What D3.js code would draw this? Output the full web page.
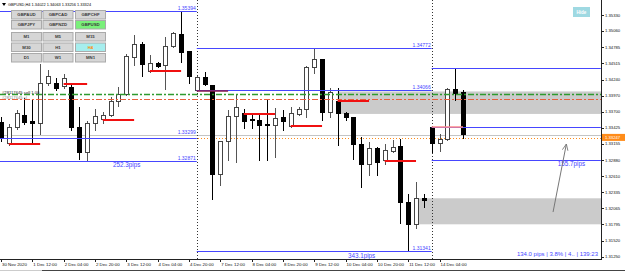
<!doctype html>
<html>
<head>
<meta charset="UTF-8">
<title>GBPUSD,H4</title>
<script src="https://cdn.jsdelivr.net/npm/d3@7"></script>
<style>
  html, body { margin: 0; padding: 0; background: #fff; }
  svg { display: block; font-family: "Liberation Sans", Arial, sans-serif; }
</style>
</head>
<body>
<div id="chart"></div>
<script>
// H4 bars, first one is 30 Nov 2020 20:00
var open  = [1.33524,1.33169,1.33439,1.33642,1.33541,1.33507,1.34182,1.34182,1.34132,1.34115,
             1.33439,1.33017,1.33507,1.33574,1.33642,1.33878,1.33996,1.34621,1.34840,1.34385,
             1.34520,1.34486,1.34807,1.35009,1.34722,1.34066,1.34283,1.34148,1.32646,1.33203,
             1.33625,1.33676,1.33574,1.33558,1.33482,1.33473,1.33608,1.33456,1.33659,1.33743,
             1.34452,1.34587,1.33693,1.33878,1.33676,1.33608,1.33152,1.32815,1.33085,1.32882,
             1.33034,1.33119,1.32173,1.31802,1.32241,1.33439,1.33169,1.33237,1.34081,1.34022];
var high  = [1.33608,1.33490,1.33726,1.33929,1.33895,1.34503,1.34402,1.34267,1.34334,1.34165,
             1.33777,1.33541,1.33743,1.33693,1.33946,1.34115,1.34672,1.34992,1.34874,1.34655,
             1.34537,1.34959,1.35043,1.35394,1.34722,1.34300,1.34368,1.34148,1.33203,1.33726,
             1.33996,1.33743,1.33642,1.33676,1.33912,1.33760,1.33726,1.33777,1.33777,1.34469,
             1.34772,1.34587,1.34098,1.34098,1.33693,1.33608,1.33271,1.33186,1.33102,1.33152,
             1.33220,1.33237,1.32308,1.32511,1.32308,1.33439,1.33321,1.34098,1.34440,1.34063];
var low   = [1.33203,1.33136,1.33406,1.33490,1.33169,1.33321,1.34148,1.34064,1.34098,1.33389,
             1.32899,1.32871,1.33389,1.33507,1.33625,1.33794,1.33980,1.34486,1.34300,1.34368,
             1.34452,1.34081,1.34790,1.34537,1.34182,1.34047,1.34148,1.32224,1.32460,1.32882,
             1.32849,1.33423,1.33423,1.32882,1.32882,1.32933,1.33389,1.33439,1.33642,1.33608,
             1.34351,1.33558,1.33608,1.33136,1.33558,1.32899,1.32427,1.32629,1.32629,1.32815,
             1.33017,1.31819,1.31341,1.31735,1.32089,1.33017,1.33034,1.33220,1.33895,1.33256];
var close = [1.33254,1.33439,1.33676,1.33524,1.33507,1.34182,1.34300,1.34098,1.34267,1.33439,
             1.33017,1.33507,1.33625,1.33642,1.33878,1.33996,1.34638,1.34840,1.34503,1.34520,
             1.34469,1.34807,1.35026,1.34705,1.34300,1.34283,1.34165,1.32646,1.33203,1.33625,
             1.33777,1.33541,1.33558,1.33473,1.33473,1.33591,1.33541,1.33676,1.33743,1.34452,
             1.34587,1.33693,1.34030,1.33676,1.33608,1.33152,1.32815,1.33085,1.32849,1.33051,
             1.33102,1.32173,1.31802,1.32241,1.32207,1.33169,1.33237,1.34081,1.34013,1.33324];

var tickBars   = [0,4,8,12,16,20,24,28,32,36,40,44,48,52,56];
var tickLabels = ["30 Nov 2020","1 Dec 12:00","2 Dec 04:00","2 Dec 20:00","3 Dec 12:00",
                  "4 Dec 04:00","4 Dec 20:00","7 Dec 12:00","8 Dec 04:00","8 Dec 20:00",
                  "9 Dec 12:00","10 Dec 04:00","10 Dec 20:00","11 Dec 12:00","14 Dec 04:00"];
var priceTicks = [1.35330,1.35060,1.34785,1.34515,1.34240,1.33970,1.33700,1.33425,
                  1.33155,1.32880,1.32610,1.32335,1.32065,1.31795,1.31520,1.31250];

// weekly range lines
var weekFrom = [-0.3, 25, 55];
var weekTo   = [25, 55, 76.6];
var weekHigh = [1.35394, 1.34772, 1.34440];
var weekOpen = [1.33249, 1.34066, 1.33439];
var weekLow  = [1.32871, 1.31341, 1.32883];
var pipsBar  = [14.3, 44.3, 71.1];
var separators = [25, 55];
var labelPrices = [1.35394, 1.33299, 1.32871, 1.34772, 1.34066, 1.31341];
var labelBars   = [25, 25, 25, 55, 55, 55];

// zones
var zoneFrom   = [43, 53.4];
var zoneTop    = [1.34040, 1.32236];
var zoneBottom = [1.33660, 1.31797];

// short red levels
var redFrom  = [1, 8, 13, 19, 31, 37, 43, 49];
var redTo    = [5, 11, 17, 23, 35, 41, 47, 53];
var redPrice = [1.33169, 1.34182, 1.33574, 1.34396, 1.33676, 1.33473, 1.33895, 1.32882];

var greyLevel = 1.33299, orangeLevel = 1.33247;
var tradeOpen = 1.33995, tradeSL = 1.33907;
var arrowBars = [70.5, 72.2], arrowPrices = [1.32004, 1.33152];

var pairs = ["GBPAUD","GBPCAD","GBPCHF","GBPJPY","GBPNZD","GBPUSD"];
var periods = ["M1","M5","M15","M30","H1","H4","D1","W1","MN1"];

var W = 625, H = 271, right = 601, bottom = 259;
var blue = "#4646ff";

var x = d3.scaleLinear().domain([0, 59]).range([1, 463]);
var y = d3.scaleLinear().domain([1.312113, 1.355832]).range([bottom, 0]);
function py(p) { return Math.round(y(p)) + 0.5; }
function px(i) { return Math.round(x(i)) + 0.5; }
function cx(i) { return Math.max(0, Math.min(right, x(i))); }

var svg = d3.select("#chart").append("svg").attr("width", W).attr("height", H);
svg.append("rect").attr("width", W).attr("height", H).attr("fill", "#fff");

var plot = svg.append("g");
var bars = d3.range(open.length);

// zones behind everything
plot.selectAll(".zone").data(zoneFrom).join("rect")
  .attr("x", d => x(d)).attr("width", (d) => right - x(d))
  .attr("y", (d, i) => y(zoneTop[i]))
  .attr("height", (d, i) => y(zoneBottom[i]) - y(zoneTop[i]))
  .attr("fill", "#cbcbcb");

// full-width levels
plot.append("line").attr("x1", 0).attr("x2", right)
  .attr("y1", py(greyLevel)).attr("y2", py(greyLevel))
  .attr("stroke", "#c4c4c4");
plot.append("line").attr("x1", 0).attr("x2", right)
  .attr("y1", py(orangeLevel)).attr("y2", py(orangeLevel))
  .attr("stroke", "#ff8c1a").attr("stroke-dasharray", "1,2");

// week separators
plot.selectAll(".sep").data(separators).join("line")
  .attr("x1", d => px(d)).attr("x2", d => px(d))
  .attr("y1", 0).attr("y2", bottom)
  .attr("stroke", "#333").attr("stroke-dasharray", "1,2");

// candles
plot.selectAll(".wick").data(bars).join("line")
  .attr("x1", d => px(d)).attr("x2", d => px(d))
  .attr("y1", d => Math.round(y(high[d]))).attr("y2", d => Math.round(y(low[d])) + 1)
  .attr("stroke", d => close[d] >= open[d] ? "#555" : "#000");
plot.selectAll(".body").data(bars).join("rect")
  .attr("x", d => Math.round(x(d)) - 2 + 0.5)
  .attr("width", 4)
  .attr("y", d => py(Math.max(open[d], close[d])))
  .attr("height", d => Math.max(1, Math.round(y(Math.min(open[d], close[d]))) - Math.round(y(Math.max(open[d], close[d])))))
  .attr("fill", d => close[d] >= open[d] ? "#fff" : "#000")
  .attr("stroke", d => close[d] >= open[d] ? "#444" : "#000");

// trade lines
plot.append("line").attr("x1", 0).attr("x2", right)
  .attr("y1", py(tradeOpen)).attr("y2", py(tradeOpen))
  .attr("stroke", "#2f9a2f").attr("stroke-width", 1.3).attr("stroke-dasharray", "6,2,2,2");
plot.append("line").attr("x1", 0).attr("x2", right)
  .attr("y1", py(tradeSL)).attr("y2", py(tradeSL))
  .attr("stroke", "#e8603c").attr("stroke-dasharray", "6,2,2,2");

// weekly high / open / low
[weekHigh, weekOpen, weekLow].forEach(function(arr) {
  plot.selectAll(null).data(arr).join("line")
    .attr("x1", (d, i) => cx(weekFrom[i])).attr("x2", (d, i) => cx(weekTo[i]))
    .attr("y1", d => py(d)).attr("y2", d => py(d))
    .attr("stroke", blue);
});

// red levels
plot.selectAll(".red").data(redPrice).join("line")
  .attr("x1", (d, i) => x(redFrom[i])).attr("x2", (d, i) => x(redTo[i]))
  .attr("y1", d => Math.round(y(d)) + 1).attr("y2", d => Math.round(y(d)) + 1)
  .attr("stroke", "#f01010").attr("stroke-width", 2);
plot.append("line").attr("x1", x(25)).attr("x2", x(29))
  .attr("y1", py(weekOpen[1]) + 0.5).attr("y2", py(weekOpen[1]) + 0.5)
  .attr("stroke", "#8a1848").attr("stroke-width", 1.5);
plot.append("line").attr("x1", x(55)).attr("x2", x(59))
  .attr("y1", py(weekOpen[2]) - 0.5).attr("y2", py(weekOpen[2]) - 0.5)
  .attr("stroke", "#ff8a8a").attr("stroke-width", 1.5);

// level labels
plot.selectAll(".lvl").data(labelPrices).join("text")
  .attr("x", (d, i) => x(labelBars[i]) - 1).attr("y", d => y(d) - 1)
  .attr("text-anchor", "end").attr("font-size", 5).attr("fill", blue)
  .text(d => d.toFixed(5));
plot.selectAll(".pips").data(weekHigh).join("text")
  .attr("x", (d, i) => x(pipsBar[i])).attr("y", (d, i) => y(weekLow[i]) + 6.5)
  .attr("font-size", 6.3).attr("fill", blue)
  .text((d, i) => ((d - weekLow[i]) * 10000).toFixed(1) + "pips");
plot.append("text").attr("x", 598).attr("y", 255.5).attr("text-anchor", "end")
  .attr("font-size", 6).attr("fill", blue)
  .text("134.0 pips | 3.8% | 4.. | 139:23");

// trade labels
plot.append("text").attr("x", 2).attr("y", py(tradeOpen) - 0.5)
  .attr("font-size", 4.2).attr("fill", "#222").text("#28117645 sell 1.00");
plot.append("text").attr("x", 2).attr("y", py(tradeSL) - 0.5)
  .attr("font-size", 4.2).attr("fill", "#888").text("#28117645 sl");

// arrow
svg.append("defs").append("marker").attr("id", "ah")
  .attr("viewBox", "0 0 10 10").attr("refX", 9).attr("refY", 5)
  .attr("markerWidth", 7).attr("markerHeight", 7).attr("orient", "auto")
  .append("path").attr("d", "M0,1 L9,5 L0,9").attr("fill", "none").attr("stroke", "#777").attr("stroke-width", 1.2);
plot.append("line")
  .attr("x1", x(arrowBars[0])).attr("y1", y(arrowPrices[0]))
  .attr("x2", x(arrowBars[1])).attr("y2", y(arrowPrices[1]))
  .attr("stroke", "#777").attr("marker-end", "url(#ah)");

// axes frame
svg.append("line").attr("x1", right + 0.5).attr("x2", right + 0.5).attr("y1", 0).attr("y2", bottom + 1)
  .attr("stroke", "#222");
svg.append("line").attr("x1", 0).attr("x2", right).attr("y1", bottom + 0.5).attr("y2", bottom + 0.5)
  .attr("stroke", "#222");

// price axis
var pa = svg.append("g");
pa.selectAll("line").data(priceTicks).join("line")
  .attr("x1", right).attr("x2", right + 3).attr("y1", d => py(d)).attr("y2", d => py(d))
  .attr("stroke", "#222");
pa.selectAll("text").data(priceTicks).join("text")
  .attr("x", right + 4).attr("y", d => y(d) + 1.5)
  .attr("font-size", 4.2).attr("fill", "#111").text(d => d.toFixed(5));
pa.append("rect").attr("x", right + 1).attr("y", y(orangeLevel) - 4.5)
  .attr("width", W - right - 1).attr("height", 7).attr("fill", "#ff8c1a");
pa.append("text").attr("x", right + 4).attr("y", y(orangeLevel) + 1)
  .attr("font-size", 4.2).attr("fill", "#fff").text(orangeLevel.toFixed(5));

// time axis
var ta = svg.append("g");
ta.selectAll("line").data(tickBars).join("line")
  .attr("x1", d => px(d)).attr("x2", d => px(d)).attr("y1", bottom).attr("y2", bottom + 3)
  .attr("stroke", "#222");
ta.selectAll("text").data(tickLabels).join("text")
  .attr("x", (d, i) => x(tickBars[i]) + 1).attr("y", bottom + 6.5)
  .attr("font-size", 4.4).attr("fill", "#111").text(d => d);
svg.append("line").attr("x1", 0).attr("x2", 42).attr("y1", 270.5).attr("y2", 270.5).attr("stroke", "#ccc");
svg.append("line").attr("x1", 42).attr("x2", W).attr("y1", 270.5).attr("y2", 270.5).attr("stroke", "#444");

// header
var last = open.length - 1;
svg.append("path").attr("d", "M2,3 L6,3 L4,6 Z").attr("fill", "#000");
svg.append("text").attr("x", 8).attr("y", 5.8).attr("font-size", 3.9).attr("fill", "#000")
  .text("GBPUSD,H4  " + [open[last], high[last], low[last], close[last]].map(d => d.toFixed(5)).join(" "));

// button panel
var colX = [11, 42.5, 75], colW = 30;
var panel = svg.append("g").attr("font-weight", "bold").attr("font-size", 4.3).attr("text-anchor", "middle");
var btns = [];
pairs.forEach(function(p, i) { btns.push({t: p, c: i % 3, y: [10, 20][Math.floor(i / 3)]}); });
periods.forEach(function(p, i) { btns.push({t: p, c: i % 3, y: [32, 42.5, 53][Math.floor(i / 3)]}); });
panel.selectAll("rect").data(btns).join("rect")
  .attr("x", d => colX[d.c] + 0.5).attr("y", d => d.y + 0.5).attr("width", colW).attr("height", 8.5)
  .attr("fill", d => d.t == "GBPUSD" ? "#7af07a" : d.t == "H4" ? "#a6eeee" : "#d6d6d6")
  .attr("stroke", "#aaa");
panel.selectAll("text").data(btns).join("text")
  .attr("x", d => colX[d.c] + colW / 2 + 0.5).attr("y", d => d.y + 6.3)
  .attr("fill", d => d.t == "H4" ? "#ff8c00" : "#3a3a3a").text(d => d.t);

// hide button
svg.append("rect").attr("x", 573).attr("y", 7).attr("width", 17).attr("height", 10).attr("fill", "#9fd9e2");
svg.append("text").attr("x", 581.5).attr("y", 13.8).attr("text-anchor", "middle")
  .attr("font-size", 4.5).attr("font-weight", "bold").attr("fill", "#fff").text("Hide");
</script>
</body>
</html>
